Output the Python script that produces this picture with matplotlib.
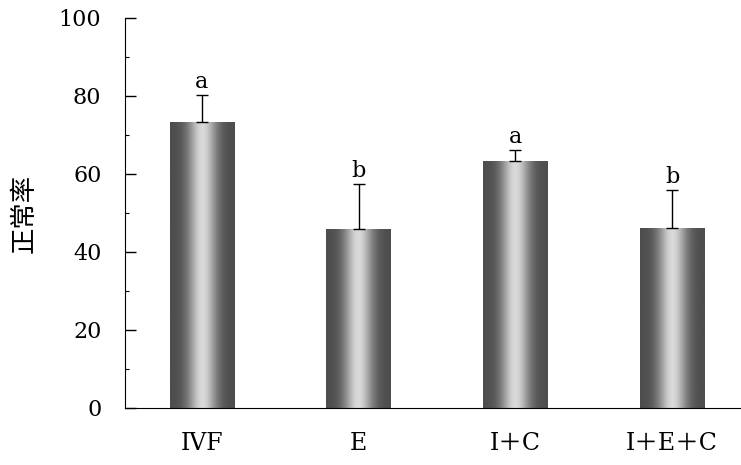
"""
Bar chart of normal rate per group, with scanned-looking shaded bars
"""

import numpy as np
import matplotlib
matplotlib.use('Agg')
import matplotlib.pyplot as plt

groups = ['IVF', 'E', 'I+C', 'I+E+C']
group_labels = ['IVF', 'E', 'I＋C', 'I＋E＋C']
rates = [73.3, 45.9, 63.3, 46.2]
errors = [7.0, 11.6, 2.9, 9.8]
letters = ['a', 'b', 'a', 'b']

plt.rcParams['font.family'] = ['DejaVu Serif', 'Noto Sans CJK SC', 'DejaVu Sans']

fig = plt.figure(figsize=(7.41, 4.65), dpi=100)
ax = fig.add_axes([0.1687, 0.1226, 0.8313, 0.8387])

x = np.arange(len(groups))
bars = ax.bar(x, rates, width=0.41, color='none', edgecolor='none', zorder=2)

# gradient fill: dark at the edges, light in the middle
ramp = np.linspace(0, 1, 200)
shade = 0.3 + 0.55 * np.exp(-((ramp - 0.5) / 0.22) ** 2)
img = np.tile(shade, (2, 1))
for b in bars:
	x0, y0 = b.get_x(), b.get_y()
	w, h = b.get_width(), b.get_height()
	im = ax.imshow(img, cmap='gray', vmin=0, vmax=1, aspect='auto',
			extent=(x0, x0 + w, y0, y0 + h), zorder=2, interpolation='bilinear')
	im.set_clip_path(b)

# error bars only upward
ax.errorbar(x, rates, yerr=[np.zeros(len(errors)), errors], fmt='none',
		ecolor='black', elinewidth=1.0, capsize=4, capthick=1.0, zorder=3)

for xi, r, e, l in zip(x, rates, errors, letters):
	ax.text(xi, r + e + 0.4, l, ha='center', va='bottom', fontsize=16)

ax.set_xlim(-0.49, 3.44)
ax.set_ylim(0, 100)
ax.set_yticks([0, 20, 40, 60, 80, 100])
ax.set_yticks(np.arange(10, 100, 20), minor=True)
ax.set_xticks(x)
ax.set_xticklabels(group_labels, fontsize=17)
ax.tick_params(axis='x', length=0, pad=17)
ax.tick_params(axis='y', direction='in', length=8, width=1, labelsize=16, pad=17)
ax.tick_params(axis='y', which='minor', direction='in', length=3, width=0.8)
ax.spines['top'].set_visible(False)
ax.spines['right'].set_visible(False)
ax.set_ylabel('正常率', fontsize=19, family=['Noto Sans CJK SC', 'DejaVu Sans'], labelpad=15)

fig.savefig('out.png', dpi=100)
